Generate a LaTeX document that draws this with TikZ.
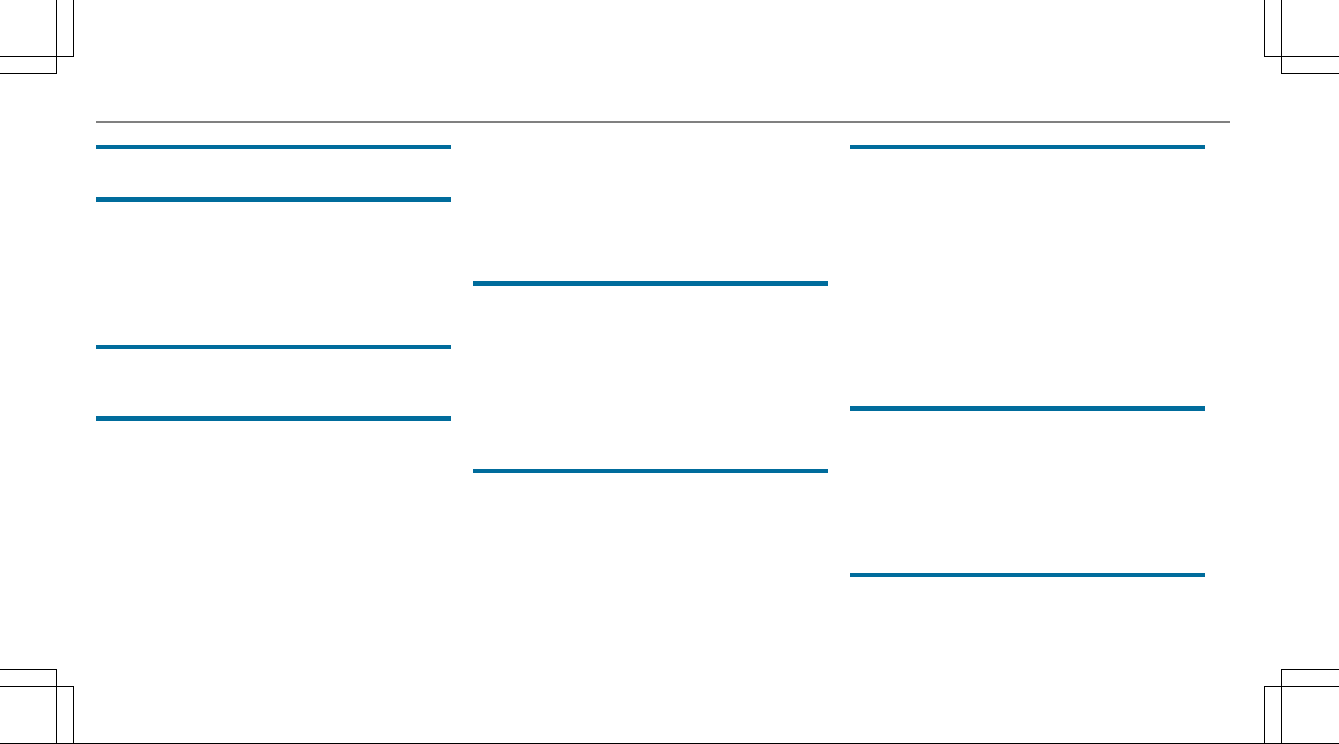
\documentclass[tikz,border=0pt]{standalone}
\usepackage{tikz}
\usetikzlibrary{
	calc,
}
\definecolor{rulesblue}{RGB}{0,108,156}
\definecolor{headgrey}{RGB}{128,128,128}
\tikzset{cropmark/.style={
		% thin black trim marks
		line width=0.55pt,draw=black,
		line cap=rect,
}}
\tikzset{headrule/.style={
		% grey rule below the running head
		line width=1pt,draw=headgrey,
}}
\tikzset{sectionrule/.style={
		% blue rule above each heading
		line width=2.3pt,draw=rulesblue,
}}

\begin{document}
\begin{tikzpicture}[x=0.5pt,y=-0.5pt]
	\useasboundingbox (0,0) rectangle (1339,744);
	% trim marks in the corners
	\draw [cropmark] (73.3,0) -- (73.3,56.7) -- (0,56.7);
	\draw [cropmark] (56.7,0) -- (56.7,73.3) -- (0,73.3);
	\draw [cropmark] (1264.3,0) -- (1264.3,56.7) -- (1339,56.7);
	\draw [cropmark] (1281.3,0) -- (1281.3,73.3) -- (1339,73.3);
	\draw [cropmark] (0,669.3) -- (56.7,669.3) -- (56.7,744);
	\draw [cropmark] (0,686.3) -- (73.3,686.3) -- (73.3,744);
	\draw [cropmark] (1339,669.3) -- (1281.3,669.3) -- (1281.3,744);
	\draw [cropmark] (1339,686.3) -- (1264.3,686.3) -- (1264.3,744);
	\draw [cropmark] (0,743.5) -- (1339,743.5);
	% running head
	\draw [headrule] (96,122) -- (1230,122);
	% section rules, column by column
	\foreach \y in {147,199.5,347,418.5}
		\draw [sectionrule] (96,\y) -- (451,\y);
	\foreach \y in {283.5,471}
		\draw [sectionrule] (473,\y) -- (828,\y);
	\foreach \y in {147,408.5,575}
		\draw [sectionrule] (850,\y) -- (1205,\y);
\end{tikzpicture}
\end{document}
